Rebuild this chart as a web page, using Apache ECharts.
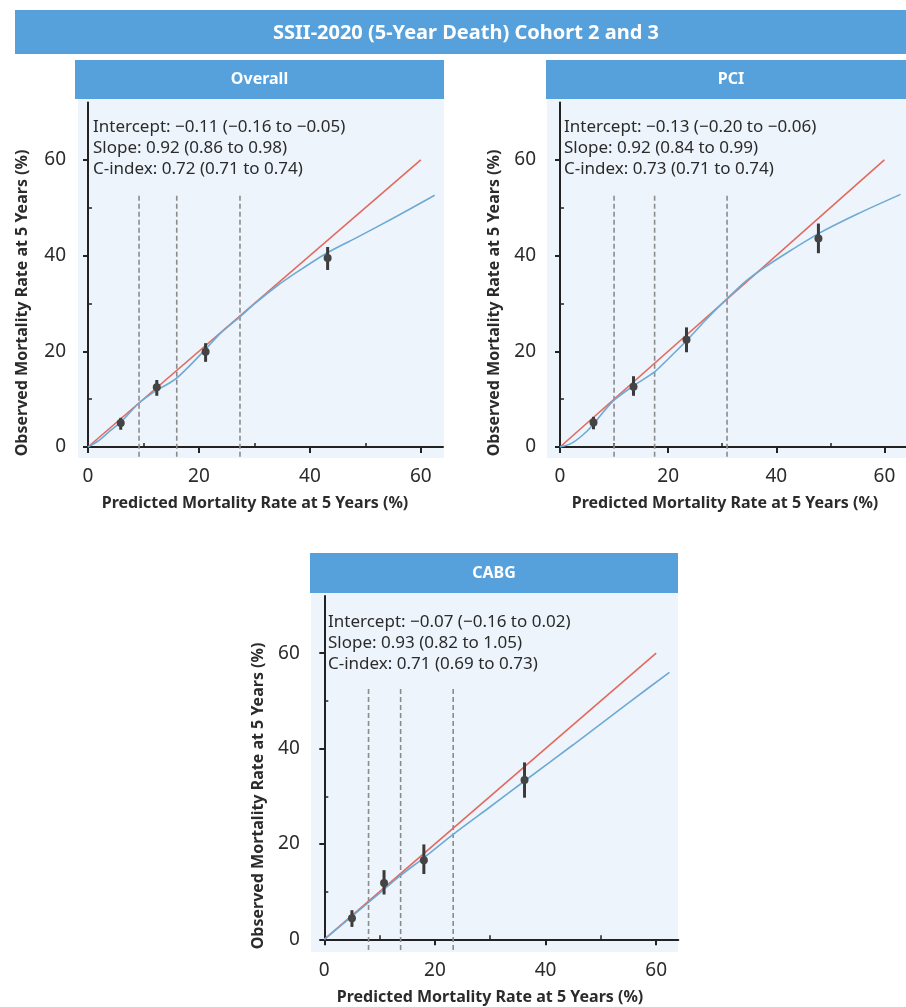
<!DOCTYPE html>
<html>
<head>
<meta charset="utf-8">
<script src="https://cdn.jsdelivr.net/npm/echarts@6/dist/echarts.min.js"></script>
<style>
html,body{margin:0;padding:0;background:#fff;}
#chart{width:906px;height:1007px;}
</style>
</head>
<body>
<div id="chart"></div>
<script>
// ---------- DATA ----------
const mainTitle = 'SSII-2020 (5-Year Death) Cohort 2 and 3';
const panelNames = ['Overall', 'PCI', 'CABG'];
const xAxisName = 'Predicted Mortality Rate at 5 Years (%)';
const yAxisName = 'Observed Mortality Rate at 5 Years (%)';
const majorTicks = [0, 20, 40, 60];
const minorTicks = [10, 30, 50];
const xMax = 64;
const yMax = 72;

const statsOverall = ['Intercept: \u22120.11 (\u22120.16 to \u22120.05)', 'Slope: 0.92 (0.86 to 0.98)', 'C-index: 0.72 (0.71 to 0.74)'];
const statsPCI = ['Intercept: \u22120.13 (\u22120.20 to \u22120.06)', 'Slope: 0.92 (0.84 to 0.99)', 'C-index: 0.73 (0.71 to 0.74)'];
const statsCABG = ['Intercept: \u22120.07 (\u22120.16 to 0.02)', 'Slope: 0.93 (0.82 to 1.05)', 'C-index: 0.71 (0.69 to 0.73)'];

// ideal (perfect calibration) line
const ideal = [[0, 0], [60, 60]];

// calibration curves [predicted, observed]
const curveOverall = [[0,0],[2,1.4],[4,3.4],[6,5.3],[9.2,9.2],[12.4,11.9],[14,12.9],[16,14.4],[18,16.6],[21,20.2],[24,23.9],[27.4,27.2],[30,29.9],[34,33.6],[38,36.8],[43,40.5],[48,43.5],[55,47.8],[62.5,52.6]];
const curvePCI = [[0,0],[2,0.7],[4,2.3],[6,4.5],[8,7.3],[10,9.8],[13.6,12.8],[17.5,15.7],[20,18.4],[23.4,22.2],[27,26.6],[31,31.1],[34,34.3],[37.4,37.2],[42,40.6],[47.8,44.6],[55,48.7],[63,52.8]];
const curveCABG = [[0,0],[5,4.8],[10,9.7],[13.8,13.4],[18,17.1],[23.3,22.0],[30,27.8],[36.2,33.2],[45,40.8],[55,49.6],[62.4,56.0]];

// grouped observed points [predicted, observed, lower, upper]
const pointsOverall = [[5.9,5.0,3.6,6.1],[12.4,12.5,10.7,14.0],[21.2,19.9,17.8,21.7],[43.2,39.5,37.0,41.8]];
const pointsPCI = [[6.2,5.1,3.7,6.3],[13.6,12.6,10.7,14.8],[23.4,22.4,19.8,25.0],[47.8,43.6,40.5,46.7]];
const pointsCABG = [[5.0,4.4,2.6,6.1],[10.8,11.8,9.4,14.5],[18.0,16.6,13.7,19.9],[36.2,33.4,29.7,37.1]];

// risk group cut-offs (dashed lines): [x, top, bottom]
const cutTop = 52.5, cutBottom = -2.4;
const cutsOverall = [9.2, 16.0, 27.4];
const cutsPCI = [10.0, 17.5, 30.9];
const cutsCABG = [8.0, 13.8, 23.3];

// ---------- LAYOUT ----------
const BLUE_HDR = '#56a1dc';
const PANEL_BG = '#edf4fb';
const TXT = '#2b2b2b';
const RED = '#e2695d';
const CURVE = '#6eaad4';
const FONT = '"Noto Sans", "Open Sans", sans-serif';

const panels = [
  { name: panelNames[0], stats: statsOverall, curve: curveOverall, pts: pointsOverall, cuts: cutsOverall,
    grid: {left: 88, top: 102.5, width: 355, height: 344.5}, yOff: 11, xOff: 11,
    bg: [78, 99, 366, 359], hdr: [75, 60, 369, 39], statX: 93, statY: 127,
    yNameX: 22, yNameY: 303, xNameX: 255, xNameY: 503 },
  { name: panelNames[1], stats: statsPCI, curve: curvePCI, pts: pointsPCI, cuts: cutsPCI,
    grid: {left: 560, top: 102.5, width: 353, height: 344.5}, yOff: 13, xOff: 11,
    bg: [547, 99, 370, 359], hdr: [546, 60, 370, 39], statX: 564, statY: 127,
    yNameX: 494, yNameY: 303, xNameX: 725, xNameY: 503, hdrTextX: 731 },
  { name: panelNames[2], stats: statsCABG, curve: curveCABG, pts: pointsCABG, cuts: cutsCABG,
    grid: {left: 324.3, top: 596, width: 354, height: 343.3}, yOff: 13.5, xOff: 12.4,
    bg: [311, 593, 367, 359], hdr: [310, 553, 368, 40], statX: 328, statY: 622,
    yNameX: 258, yNameY: 796, xNameX: 490, xNameY: 997 }
];

const grids = [], xAxes = [], yAxes = [], series = [], graphics = [];

graphics.push({ type: 'rect', shape: {x: 15, y: 10, width: 900, height: 44}, style: {fill: BLUE_HDR}, z: 0 });
graphics.push({ type: 'text', x: 466, y: 33, style: { text: mainTitle, fill: '#ffffff', font: 'bold 20px ' + FONT, textAlign: 'center', textVerticalAlign: 'middle', align: 'center', verticalAlign: 'middle' }, z: 1 });

panels.forEach((p, i) => {
  grids.push(Object.assign({ containLabel: false }, p.grid));
  graphics.push({ type: 'rect', shape: {x: p.bg[0], y: p.bg[1], width: p.bg[2], height: p.bg[3]}, style: {fill: PANEL_BG}, z: -10, silent: true });
  graphics.push({ type: 'rect', shape: {x: p.hdr[0], y: p.hdr[1], width: p.hdr[2], height: p.hdr[3]}, style: {fill: BLUE_HDR}, z: 0 });
  graphics.push({ type: 'text', x: p.hdrTextX || (p.hdr[0] + p.hdr[2] / 2), y: p.hdr[1] + p.hdr[3] / 2, style: { text: p.name, fill: '#ffffff', font: 'bold 16px ' + FONT, textAlign: 'center', textVerticalAlign: 'middle', align: 'center', verticalAlign: 'middle' }, z: 1 });
  p.stats.forEach((s, k) => {
    graphics.push({ type: 'text', x: p.statX, y: p.statY + k * 21, style: { text: s, fill: TXT, font: '17px ' + FONT, textAlign: 'left', textVerticalAlign: 'middle', align: 'left', verticalAlign: 'middle' }, z: 5 });
  });
  graphics.push({ type: 'text', x: p.yNameX, y: p.yNameY, rotation: Math.PI / 2, style: { text: yAxisName, fill: TXT, font: 'bold 16px ' + FONT, textAlign: 'center', textVerticalAlign: 'middle', align: 'center', verticalAlign: 'middle' }, z: 5 });
  graphics.push({ type: 'text', x: p.xNameX, y: p.xNameY, style: { text: xAxisName, fill: TXT, font: 'bold 16px ' + FONT, textAlign: 'center', textVerticalAlign: 'middle', align: 'center', verticalAlign: 'middle' }, z: 5 });

  const xi = xAxes.length, yi = yAxes.length;
  const lineStyle = { color: '#222', width: 2 };
  xAxes.push({
    type: 'value', gridIndex: i, min: 0, max: xMax, position: 'bottom', offset: p.xOff,
    axisLine: { show: true, lineStyle },
    axisTick: { show: true, customValues: majorTicks, length: 6, lineStyle: { color: '#222', width: 2 } },
    axisLabel: { show: true, customValues: majorTicks, color: TXT, fontSize: 19, fontFamily: FONT, margin: 9 },
    splitLine: { show: false }
  });
  xAxes.push({
    type: 'value', gridIndex: i, min: 0, max: xMax, position: 'bottom', offset: p.xOff,
    axisLine: { show: false },
    axisTick: { show: true, inside: true, customValues: minorTicks, length: 4, lineStyle: { color: '#222', width: 1.5 } },
    axisLabel: { show: false }, splitLine: { show: false }
  });
  yAxes.push({
    type: 'value', gridIndex: i, min: 0, max: yMax, position: 'left', offset: p.yOff,
    axisLine: { show: true, lineStyle },
    axisTick: { show: true, customValues: majorTicks, length: 5, lineStyle: { color: '#222', width: 2 } },
    axisLabel: { show: true, customValues: majorTicks, color: TXT, fontSize: 19, fontFamily: FONT, margin: 11 },
    splitLine: { show: false }
  });
  yAxes.push({
    type: 'value', gridIndex: i, min: 0, max: yMax, position: 'left', offset: p.yOff,
    axisLine: { show: false },
    axisTick: { show: true, inside: true, customValues: minorTicks, length: 4, lineStyle: { color: '#222', width: 1.5 } },
    axisLabel: { show: false }, splitLine: { show: false }
  });

  series.push({
    type: 'custom', xAxisIndex: xi, yAxisIndex: yi, clip: false, silent: true, z: 2,
    data: p.cuts.map(c => [c, cutTop, cutBottom]),
    encode: { x: 0, y: 1 },
    renderItem: (params, api) => {
      const a = api.coord([api.value(0), api.value(1)]);
      const b = api.coord([api.value(0), api.value(2)]);
      return { type: 'line', shape: { x1: a[0], y1: a[1], x2: b[0], y2: b[1] }, style: { stroke: '#8c8c8c', lineWidth: 1.6, lineDash: [5, 3] } };
    }
  });
  series.push({
    type: 'line', xAxisIndex: xi, yAxisIndex: yi, data: ideal, showSymbol: false, silent: true, z: 3,
    lineStyle: { color: RED, width: 1.6 }
  });
  series.push({
    type: 'line', xAxisIndex: xi, yAxisIndex: yi, data: p.curve, showSymbol: false, silent: true, z: 4,
    smooth: 0.25, lineStyle: { color: CURVE, width: 1.6 }
  });
  series.push({
    type: 'custom', xAxisIndex: xi, yAxisIndex: yi, clip: false, silent: true, z: 6,
    data: p.pts, encode: { x: 0, y: 1 },
    renderItem: (params, api) => {
      const x = api.value(0);
      const c = api.coord([x, api.value(1)]);
      const lo = api.coord([x, api.value(2)]);
      const hi = api.coord([x, api.value(3)]);
      return { type: 'group', children: [
        { type: 'line', shape: { x1: lo[0], y1: lo[1], x2: hi[0], y2: hi[1] }, style: { stroke: '#3a3a3a', lineWidth: 3 } },
        { type: 'circle', shape: { cx: c[0], cy: c[1], r: 4 }, style: { fill: '#444444' } }
      ]};
    }
  });
});

const chart = echarts.init(document.getElementById('chart'), null, { renderer: 'canvas' });
chart.setOption({
  backgroundColor: '#ffffff',
  animation: false,
  grid: grids,
  xAxis: xAxes,
  yAxis: yAxes,
  graphic: { elements: graphics },
  series: series
});
</script>
</body>
</html>
